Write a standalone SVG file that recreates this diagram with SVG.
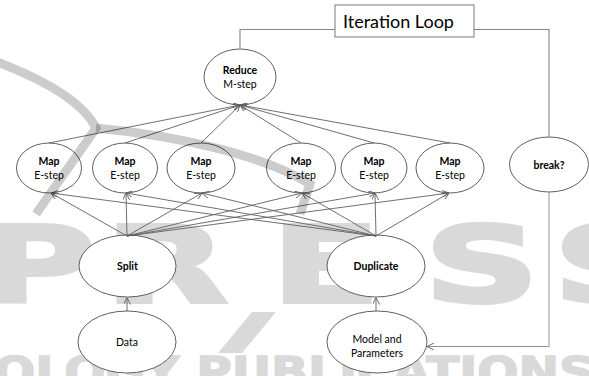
<svg xmlns="http://www.w3.org/2000/svg" width="589" height="376" viewBox="0 0 589 376">
  <style>
    .wm { font-family: "DejaVu Sans", sans-serif; font-weight: bold; fill: #d9d9d9; stroke: #d9d9d9; stroke-linejoin: miter; }
    .node ellipse { fill: #ffffff; stroke: #5f5f5f; stroke-width: 1; }
    .node text { font-family: Lato, "Liberation Sans", sans-serif; font-size: 10.5px; fill: #000; text-anchor: middle; }
    .node text.b { font-weight: bold; }
    .edge { fill: none; stroke: #5f5f5f; stroke-width: 0.9; marker-end: url(#arr); }
    .loop { fill: none; stroke: #858585; stroke-width: 1.1; }
    .swoosh { fill: none; stroke: #000; stroke-opacity: 0.2; stroke-width: 9; }
  </style>
  <defs>
    <marker id="arr" viewBox="0 0 10 10" refX="10" refY="5" markerWidth="7" markerHeight="7" markerUnits="userSpaceOnUse" orient="auto">
      <path d="M0,0 L10,5 L0,10" fill="none" stroke="#5f5f5f" stroke-width="1.3"/>
    </marker>
  </defs>

  <rect width="589" height="376" fill="#ffffff"/>

  <!-- background watermark lettering -->
  <g id="watermark">
    <text class="wm" font-size="106" stroke-width="4" transform="scale(1.5,1)" x="-14 70 181 283 369" y="302">PRESS</text>
    <text class="wm" font-size="40" stroke-width="1.5" x="-6" y="386" textLength="600" lengthAdjust="spacingAndGlyphs">OLOGY PUBLICATIONS</text>
    <polygon points="252,312 276,312 242,353 218,353" fill="#d9d9d9"/>
  </g>

  <!-- nodes -->
  <g id="reduce" class="node">
    <ellipse cx="240" cy="77" rx="36" ry="28"/>
    <text class="b" x="240" y="74">Reduce</text>
    <text x="240" y="87.5">M-step</text>
  </g>
  <g id="map1" class="node">
    <ellipse cx="49" cy="168" rx="32.5" ry="25"/>
    <text class="b" x="49" y="165">Map</text>
    <text x="49" y="179">E-step</text>
  </g>
  <g id="map2" class="node">
    <ellipse cx="125" cy="168" rx="32.5" ry="25"/>
    <text class="b" x="125" y="165">Map</text>
    <text x="125" y="179">E-step</text>
  </g>
  <g id="map3" class="node">
    <ellipse cx="201" cy="168" rx="34" ry="25"/>
    <text class="b" x="201" y="165">Map</text>
    <text x="201" y="179">E-step</text>
  </g>
  <g id="map4" class="node">
    <ellipse cx="301" cy="168" rx="34.5" ry="25"/>
    <text class="b" x="301" y="165">Map</text>
    <text x="301" y="179">E-step</text>
  </g>
  <g id="map5" class="node">
    <ellipse cx="374" cy="168" rx="33" ry="25"/>
    <text class="b" x="374" y="165">Map</text>
    <text x="374" y="179">E-step</text>
  </g>
  <g id="map6" class="node">
    <ellipse cx="450" cy="168" rx="34" ry="25"/>
    <text class="b" x="450" y="165">Map</text>
    <text x="450" y="179">E-step</text>
  </g>
  <g id="break" class="node">
    <ellipse cx="549" cy="164.5" rx="39.5" ry="27.5"/>
    <text class="b" x="549" y="168.5">break?</text>
  </g>
  <g id="split" class="node">
    <ellipse cx="127.5" cy="266" rx="48.5" ry="31"/>
    <text class="b" x="127.5" y="270">Split</text>
  </g>
  <g id="duplicate" class="node">
    <ellipse cx="376" cy="266" rx="49" ry="31"/>
    <text class="b" x="376" y="270">Duplicate</text>
  </g>
  <g id="data" class="node">
    <ellipse cx="127" cy="342" rx="49" ry="31"/>
    <text x="127" y="346">Data</text>
  </g>
  <g id="model" class="node">
    <ellipse cx="377" cy="342" rx="50" ry="31"/>
    <text x="377" y="342.5">Model and</text>
    <text x="377" y="356.5">Parameters</text>
  </g>
  <g id="iteration-loop">
    <rect x="335" y="5" width="139" height="32" fill="#ffffff" stroke="#858585" stroke-width="1.1"/>
    <text x="343" y="27.5" font-family="Lato, 'Liberation Sans', sans-serif" font-size="18" fill="#000">Iteration Loop</text>
  </g>

  <!-- connectors -->
  <g id="connectors">
    <!-- map outputs into reduce -->
    <path class="edge" d="M49,143 L240,105"/>
    <path class="edge" d="M125,143 L240,105"/>
    <path class="edge" d="M201,143 L240,105"/>
    <path class="edge" d="M301,143 L240,105"/>
    <path class="edge" d="M374,143 L240,105"/>
    <path class="edge" d="M450,143 L240,105"/>
    <!-- split fans out to every map -->
    <path class="edge" d="M127,236 L51,193"/>
    <path class="edge" d="M127,236 L126,193"/>
    <path class="edge" d="M127,236 L202,193"/>
    <path class="edge" d="M127,236 L302,193"/>
    <path class="edge" d="M127,236 L375,193"/>
    <path class="edge" d="M127,236 L449,193"/>
    <!-- duplicate fans out to every map -->
    <path class="edge" d="M376,236 L51,193"/>
    <path class="edge" d="M376,236 L126,193"/>
    <path class="edge" d="M376,236 L202,193"/>
    <path class="edge" d="M376,236 L302,193"/>
    <path class="edge" d="M376,236 L375,193"/>
    <path class="edge" d="M376,236 L449,193"/>
    <!-- inputs -->
    <path class="edge" d="M127,311 L127,297.5"/>
    <path class="edge" d="M376,311 L376,297.5"/>
    <!-- iteration loop -->
    <path class="loop" d="M240,49 L240,29.5 L335,29.5"/>
    <path class="loop" d="M474,29.5 L549,29.5 L549,137"/>
    <path class="edge" style="stroke:#858585" d="M549,192 L549,346.5 L427,346.5"/>
  </g>

  <!-- watermark swoosh laid over the drawing -->
  <g id="watermark-swoosh">
    <path class="swoosh" d="M-8,60 Q78,92 96,128 L36,214"/>
    <path class="swoosh" d="M96,128 C180,136 262,155 310,184 L300,214"/>
  </g>
</svg>
